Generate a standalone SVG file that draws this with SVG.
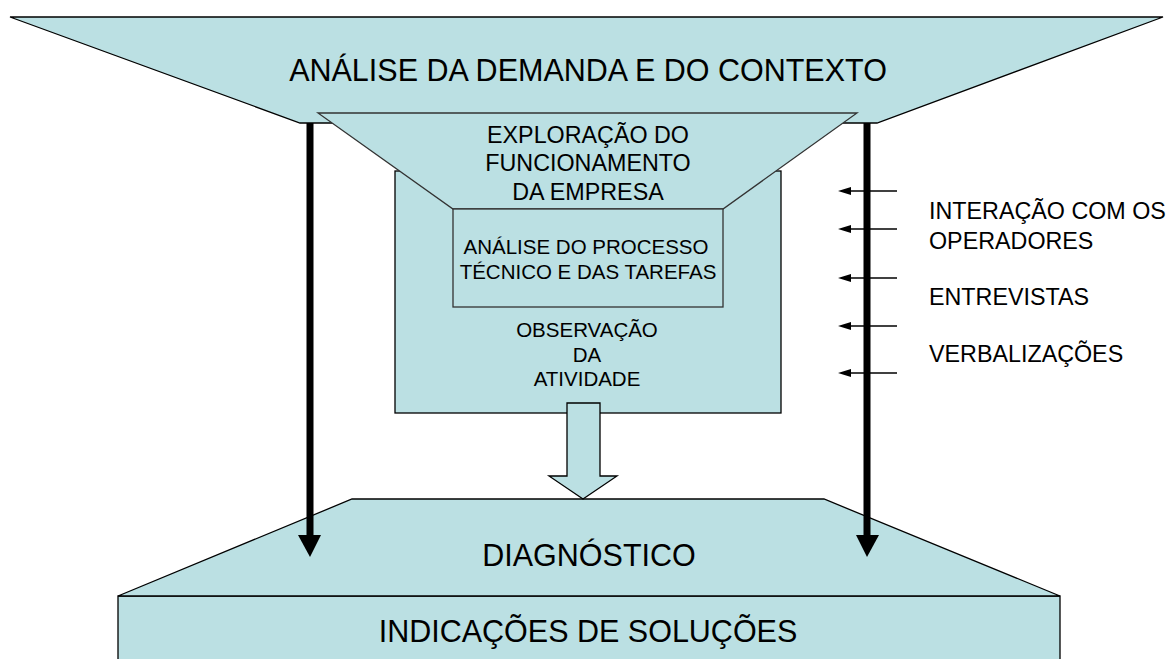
<svg xmlns="http://www.w3.org/2000/svg" width="1171" height="659" viewBox="0 0 1171 659">
<style>
.s{fill:#BBE0E3;stroke:#000;stroke-width:1.3}
.t{font-family:"Liberation Sans",Arial,sans-serif;fill:#000;text-anchor:middle}
.big{font-size:30.5px}
.mid{font-size:23.3px}
.sm{font-size:20.5px}
.lab{font-family:"Liberation Sans",Arial,sans-serif;font-size:23.3px;fill:#000}
.thin{stroke:#000;stroke-width:1.5;fill:none}
.thick{stroke:#000;stroke-width:7;fill:none}
.head{fill:#000}
</style>
<g id="analise-demanda">
<polygon class="s" points="10,17 1163,17 877,123 300,123"/>
<text class="t big" x="588" y="81">ANÁLISE DA DEMANDA E DO CONTEXTO</text>
</g>
<g id="observacao">
<rect class="s" x="395" y="171" width="386" height="242"/>
<text class="t sm" x="587" y="337">OBSERVAÇÃO</text>
<text class="t sm" x="587" y="362">DA</text>
<text class="t sm" x="587" y="386">ATIVIDADE</text>
</g>
<g id="exploracao">
<polygon class="s" points="318,113 857,113 723,209 453,209" style="stroke:#333"/>
<text class="t mid" x="588" y="143">EXPLORAÇÃO DO</text>
<text class="t mid" x="588" y="171">FUNCIONAMENTO</text>
<text class="t mid" x="588" y="200">DA EMPRESA</text>
</g>
<g id="analise-processo">
<rect class="s" x="453" y="209" width="270" height="98" style="stroke:#333"/>
<text class="t sm" x="586" y="254">ANÁLISE DO PROCESSO</text>
<text class="t sm" x="588" y="279">TÉCNICO E DAS TAREFAS</text>
</g>
<g id="indicacoes">
<rect class="s" x="118" y="596" width="942" height="80"/>
<text class="t big" x="588" y="642">INDICAÇÕES DE SOLUÇÕES</text>
</g>
<g id="diagnostico">
<polygon class="s" points="352,499 824,499 1060,596 118,596"/>
<text class="t big" x="589" y="566">DIAGNÓSTICO</text>
</g>
<g id="connectors">
<polygon class="s" points="567,403 600,403 600,476 617,476 583,499 549,476 567,476"/>
<line class="thick" x1="310" y1="123" x2="310" y2="537"/>
<polygon class="head" points="298,535 321,535 310,557"/>
<line class="thick" x1="867" y1="123" x2="867" y2="537"/>
<polygon class="head" points="856,535 879,535 867,557"/>
<line class="thin" x1="897" y1="191" x2="848" y2="191"/>
<polygon class="head" points="838,191 851,187 851,195"/>
<line class="thin" x1="897" y1="229" x2="848" y2="229"/>
<polygon class="head" points="838,229 851,225 851,233"/>
<line class="thin" x1="897" y1="278" x2="848" y2="278"/>
<polygon class="head" points="838,278 851,274 851,282"/>
<line class="thin" x1="897" y1="326" x2="848" y2="326"/>
<polygon class="head" points="838,326 851,322 851,330"/>
<line class="thin" x1="897" y1="373" x2="848" y2="373"/>
<polygon class="head" points="838,373 851,369 851,377"/>
</g>
<g id="labels">
<text class="lab" x="929" y="219">INTERAÇÃO COM OS</text>
<text class="lab" x="929" y="249">OPERADORES</text>
<text class="lab" x="929" y="305">ENTREVISTAS</text>
<text class="lab" x="929" y="362">VERBALIZAÇÕES</text>
</g>
</svg>
